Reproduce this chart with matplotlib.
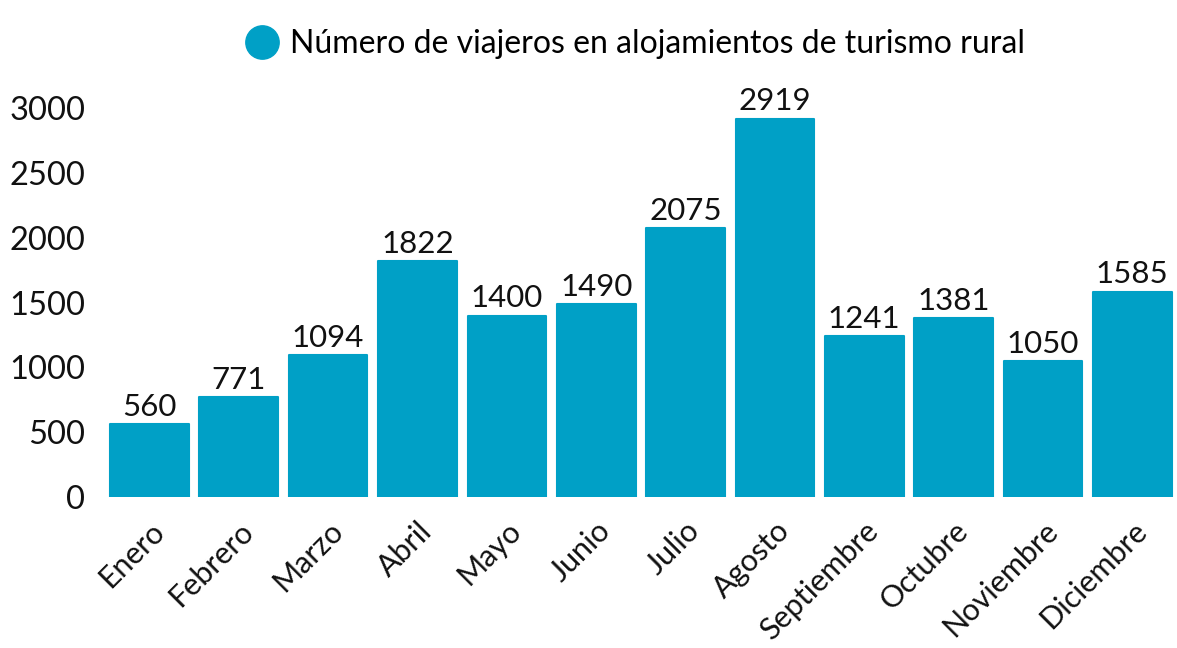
import matplotlib.pyplot as plt
from matplotlib.lines import Line2D

# ===== Data =====
months = ["Enero", "Febrero", "Marzo", "Abril", "Mayo", "Junio", "Julio",
          "Agosto", "Septiembre", "Octubre", "Noviembre", "Diciembre"]
viajeros = [560, 771, 1094, 1822, 1400, 1490, 2075, 2919, 1241, 1381, 1050, 1585]
yticks = [0, 500, 1000, 1500, 2000, 2500, 3000]
series_label = "Número de viajeros en alojamientos de turismo rural"

bar_color = "#00A0C6"
plt.rcParams["font.family"] = ["Lato", "DejaVu Sans"]

fig = plt.figure(figsize=(11.77, 6.48), dpi=100)
ax = fig.add_axes([0.089, 0.233, 0.911, 0.6])

x = list(range(len(months)))
ax.bar(x, viajeros, width=0.88, color=bar_color, edgecolor=bar_color,
       linewidth=1.5, joinstyle="round")

for xi, v in zip(x, viajeros):
    ax.text(xi, v + 25, str(v), ha="center", va="bottom", fontsize=22.5, color="#111111")

ax.set_xlim(-0.5, 11.5)
ax.set_ylim(0, 3000)
ax.set_yticks(yticks)
ax.set_yticklabels([str(t) for t in yticks], fontsize=23.5)
ax.set_xticks(x)
ax.set_xticklabels(months, fontsize=22, rotation=45, ha="right", rotation_mode="anchor")
ax.tick_params(axis="both", length=0, colors="#111111")
ax.tick_params(axis="x", pad=14)
ax.tick_params(axis="y", pad=14)
for s in ax.spines.values():
    s.set_visible(False)

handle = Line2D([], [], marker="o", linestyle="none", markersize=24,
                markerfacecolor=bar_color, markeredgecolor=bar_color)
fig.legend([handle], [series_label], loc="upper center", bbox_to_anchor=(0.54, 1.0),
           frameon=False, fontsize=23, handletextpad=0.4, handlelength=1.0)

fig.savefig("out.png", dpi=100)
